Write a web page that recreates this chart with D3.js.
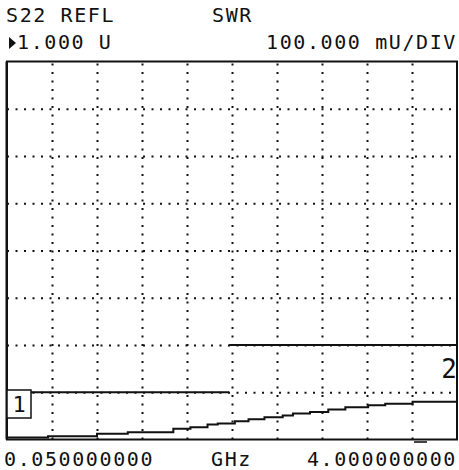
<!DOCTYPE html>
<html lang="en">
<head>
<meta charset="utf-8" />
<title>S22 REFL SWR</title>
<script src="https://d3js.org/d3.v7.min.js"></script>
<style>
    body { margin: 0; background: #fff; }
    svg { display: block; }
    .lbl {
        font-family: "DejaVu Sans Mono", monospace;
        font-size: 20px;
        letter-spacing: 1.6px;
        fill: #111;
    }
    .grid line { stroke: #111; stroke-width: 2; stroke-dasharray: 2 6.5; }
    .grid .domain { display: none; }
</style>
</head>
<body>
<script>
// trace readings (GHz, SWR) - stepped display
const freqs = [0.05, 0.41, 0.84, 1.11, 1.51, 1.66, 1.81, 1.90, 2.05, 2.17, 2.31,
               2.47, 2.56, 2.71, 2.87, 3.02, 3.22, 3.37, 3.61, 4.0];
const swr   = [1.004, 1.007, 1.012, 1.0155, 1.0226, 1.026, 1.0317, 1.034, 1.0387, 1.043, 1.047,
               1.051, 1.055, 1.058, 1.0635, 1.068, 1.0726, 1.0756, 1.080, 1.080];

// limit lines
const limitStart = [0.05, 2.0];
const limitStop  = [2.0, 4.0];
const limitVal   = [1.1, 1.2];

// graticule
const xTicks = d3.range(1, 10).map(i => 0.05 + i * 0.395);
const yTicks = [1.1, 1.2, 1.3, 1.4, 1.5, 1.6, 1.7];

const headerTop = ["S22 REFL", "SWR"];
const refText = "1.000 U";
const scaleText = "100.000 mU/DIV";
const startText = "0.050000000";
const unitText = "GHz";
const stopText = "4.000000000";

const W = 459, H = 470;
const L = 7, R = 457, T = 61.5, B = 439.5;

let svg = d3.select("body").append("svg")
    .attr("width", W)
    .attr("height", H);

let x = d3.scaleLinear().domain([0.05, 4.0]).range([L, R]);
let y = d3.scaleLinear().domain([1.0, 1.8]).range([B, T]);

// dotted grid
svg.append("g")
    .attr("class", "grid")
    .attr("transform", `translate(0,${B})`)
    .call(d3.axisBottom(x).tickValues(xTicks).tickSize(-(B - T)).tickFormat(""));
svg.append("g")
    .attr("class", "grid")
    .attr("transform", `translate(${L},0)`)
    .call(d3.axisLeft(y).tickValues(yTicks).tickSize(-(R - L)).tickFormat(""));

// frame
svg.append("rect")
    .attr("x", L).attr("y", T)
    .attr("width", R - L).attr("height", B - T)
    .attr("fill", "none")
    .attr("stroke", "#111")
    .attr("stroke-width", 2);
svg.append("line")
    .attr("x1", L - 0.5).attr("x2", L - 0.5)
    .attr("y1", T).attr("y2", B)
    .attr("stroke", "#111").attr("stroke-width", 2);

// limit lines
limitVal.forEach((v, i) => {
    svg.append("line")
        .attr("x1", x(limitStart[i])).attr("x2", x(limitStop[i]))
        .attr("y1", y(v)).attr("y2", y(v))
        .attr("stroke", "#111").attr("stroke-width", 2);
});

// trace
let pts = freqs.map((f, i) => [f, swr[i]]);
svg.append("path")
    .datum(pts)
    .attr("fill", "none")
    .attr("stroke", "#111")
    .attr("stroke-width", 2)
    .attr("d", d3.line().x(d => x(d[0])).y(d => y(d[1])).curve(d3.curveStepAfter));

// marker 1 box
svg.append("rect")
    .attr("x", L).attr("y", 390)
    .attr("width", 24).attr("height", 28)
    .attr("fill", "#fff")
    .attr("stroke", "#111").attr("stroke-width", 1.5);
svg.append("text")
    .attr("x", L + 12).attr("y", 412)
    .attr("text-anchor", "middle")
    .attr("font-family", "DejaVu Sans Mono, monospace")
    .attr("font-size", 22)
    .attr("fill", "#111")
    .text("1");

// marker 2 label
svg.append("text")
    .attr("x", 457).attr("y", 378)
    .attr("text-anchor", "end")
    .attr("font-family", "DejaVu Sans Mono, monospace")
    .attr("font-size", 26)
    .attr("fill", "#111")
    .text("2");

// small tick under frame
svg.append("line")
    .attr("x1", 414).attr("x2", 427)
    .attr("y1", 442).attr("y2", 442)
    .attr("stroke", "#444").attr("stroke-width", 2);

// header text
svg.append("text").attr("class", "lbl").attr("x", 6).attr("y", 22).text(headerTop[0]);
svg.append("text").attr("class", "lbl").attr("x", 212).attr("y", 22).text(headerTop[1]);

svg.append("path")
    .attr("d", "M9,37 L16,43 L9,49 Z")
    .attr("fill", "#111");
svg.append("text").attr("class", "lbl").attr("x", 17).attr("y", 49).text(refText);
svg.append("text").attr("class", "lbl").attr("x", 457).attr("y", 49)
    .attr("text-anchor", "end").text(scaleText);

// footer text
svg.append("text").attr("class", "lbl").attr("x", 4).attr("y", 466).text(startText);
svg.append("text").attr("class", "lbl").attr("x", 211).attr("y", 466).text(unitText);
svg.append("text").attr("class", "lbl").attr("x", 457).attr("y", 466)
    .attr("text-anchor", "end").text(stopText);
</script>
</body>
</html>
